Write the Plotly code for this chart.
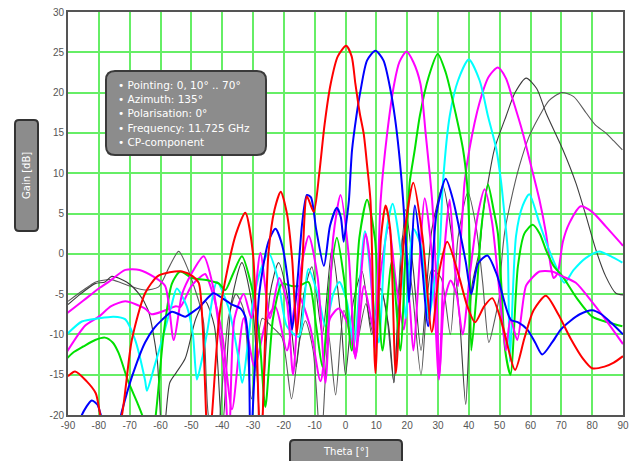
import plotly.graph_objects as go

# ---------------- data ----------------
x_ticks = [-90, -80, -70, -60, -50, -40, -30, -20, -10, 0, 10, 20, 30, 40, 50, 60, 70, 80, 90]
y_ticks = [-20, -15, -10, -5, 0, 5, 10, 15, 20, 25, 30]

red_theta = [-90, -87.7, -84, -81, -79.3, -76, -72.5, -69.3, -65, -61, -57, -53, -49.5, -47.6, -46.3, -44.5, -43.3, -41, -39, -35.5,
             -32.5, -30, -27.5, -25, -23, -21, -19, -17.3, -15.8, -14.1, -12.5, -10.3, -8.5, -6.8, -4.8, -2.5, 0.2, 2, 3.2, 4.6,
             5.9, 7, 8.1, 9.7, 11.5, 13, 14.5, 16.3, 19, 22, 25, 28, 30.5, 33, 36.8, 39.5, 42, 45, 47.6, 51,
             55, 58, 61, 65, 69, 73, 77, 80, 84, 87, 90]
red_gain = [-15.2, -14.6, -15.8, -17.3, -20.5, -25, -20, -10.7, -4.9, -2.8, -2.3, -2.2, -2.8, -3.6, -9, -25, -20, -8, -3.3, 2.5,
            5.1, 0, -25, 0, 5.5, 7.7, 5, -0.7, -10, -2, 7.1, 5.2, 10, 16, 21.1, 24.5, 25.8, 24.5, 21.1, 17.5,
            14.9, 11, 6.6, -14.8, 2, 6, 3, -14.8, 2, 8.8, 2, -9.7, -2, 1.5, -2.8, -6.5, -8.5, -6.5, -5.5, -9,
            -14.4, -10.5, -7, -5.2, -7.5, -10.5, -13, -14.2, -14, -13.5, -12.7]

blue_theta = [-90, -87, -85.5, -82.3, -80.5, -79.5, -76, -72.5, -69.3, -65, -62, -59.5, -56.3, -54, -52, -49.5, -47.6, -45, -42.8, -40,
              -36.8, -34, -32.5, -31.4, -30.8, -28, -25, -22.7, -20.5, -18.5, -17.3, -15.5, -14, -12.5, -11.2, -9.5, -7, -5, -2.8, -1.5,
              -0.6, 0.3, 1.1, 2.1, 3.5, 4.9, 7, 9.7, 12.3, 14.6, 16, 17.3, 18.7, 19.8, 20.6, 22.5, 24.5, 26.8, 29.5, 32.5,
              35, 36.8, 39, 40.8, 43, 46, 49, 52, 53.6, 56, 59, 61.5, 63.8, 67, 69.8, 73, 76, 80, 83, 86, 90]
blue_gain = [-26, -23, -20, -18.2, -18.7, -19.8, -25, -19.5, -15.3, -11, -9.2, -8.2, -7.2, -7.5, -7.8, -7.2, -6.7, -5.6, -4.9, -5.5,
             -6.3, -6.8, -7.8, -11.7, -24, -5, 1.5, 3.1, 1, -4, -9.4, -3, 4, 7.3, 7, 3, -1.5, 3.5, 5.7, 4.5,
             1.5, 4, 6.6, 12.8, 17, 20.3, 24, 25.2, 24, 20.3, 17, 12.8, 6.6, 0, -6, 6, 0, -9, 5, 9.3,
             6.5, 3.3, -1, -5, -1.2, -0.2, -2.5, -6.6, -8.2, -8.5, -9.4, -11, -12.5, -11, -9.4, -8.3, -7.5, -7, -7.5, -8.5, -10]

magenta20_theta = [-90.4, -85, -80, -76.5, -71.4, -66.8, -62, -58.5, -55.7, -53, -50, -46, -43, -41, -39.2, -37.8, -36, -33, -30.5, -27.6,
                   -24.5, -21.5, -19, -17, -14.5, -11.9, -9, -6.5, -4, -1.6, 1, 3.2, 5, 6.5, 8, 9.5, 11.4, 13.5, 15.8, 17.5,
                   19.8, 22, 24.3, 26, 28.1, 29.3, 30.5, 32, 34.1, 36, 38, 40.5, 43, 45.1, 47.5, 50, 52, 53.5, 55.7, 58.5,
                   60.5, 62.9, 67, 70.4, 74.7, 80, 85, 90]
magenta20_gain = [-7.4, -5.8, -4.3, -3.4, -2, -2, -2.9, -4, -10.7, -5, -2.5, -0.3, -4, -9.4, -15, -24, -8, -5, -8, 0.1,
                  -8, -3, -6, -15, -2, 2.2, -3, -16, 2, 7.3, 0, -13, -3, 2.5, -1, -12, 6.6, 14.9, 21.1, 23.8,
                  25.1, 23.8, 21.1, 14.9, 6.6, -2, -15, -6, -3.3, -5, -10, -2, 5, 8, 4, -5, -12, -8, -10.7, -4,
                  -3, -2.2, -2.2, -2.8, -3.6, -6, -8.5, -11.2]

green_theta = [-90.4, -88.5, -85, -81.2, -78, -75.5, -73.6, -70.5, -67.5, -65.5, -63.5, -61.7, -59, -56.3, -53.6, -49.8, -44.4, -41, -39, -36.5,
               -33.6, -30.5, -28, -26, -23.5, -20.6, -17.5, -15, -12, -9.5, -7.5, -5, -2.8, -0.5, 2, 4.5, 7, 9.5, 12, 15,
               17.8, 19.5, 20.2, 20.8, 22.5, 24.1, 27, 29.9, 32.5, 35.9, 38.1, 39.4, 40, 40.3, 40.8, 42.5, 44, 46.2, 48, 49.4,
               50.5, 51.8, 53.5, 55.9, 58, 60.7, 63, 65, 67.5, 70.4, 75, 80, 85, 89.8]
green_gain = [-13, -12.3, -11.5, -10.7, -10.4, -11, -12.3, -15.8, -18.5, -20.5, -24, -20.5, -10, -3.7, -2.2, -3, -3.3, -3.7, -4.5, -2.5,
              -0.3, -4, -10, -19, -8, -3.7, -4, -4, -3.5, -9, -14, -3, 2, -3, -12, 2, 6.7, 2, -12, -1,
              -12, 0.5, 4.7, 8.8, 13, 17.1, 22, 24.8, 22.5, 17.1, 13, 8.8, 4.7, 0.5, -12, -5, 3, 8.6, 5.5, 2.6,
              -3.6, -12, -15, -1.6, 2.5, 3.6, 2.5, 0.5, -1.5, -2.8, -5.5, -7.8, -8.5, -9]

cyan_theta = [-90.4, -85.5, -80, -75.2, -71.5, -68.2, -65, -64.4, -62, -59.5, -56.5, -54.7, -51.5, -49.5, -48.2, -46.5, -45, -41.7, -38, -34.9,
              -33.5, -30, -27.5, -24.9, -22, -19, -15.2, -12, -9, -6.5, -4, -2, 0.5, 2.7, 6.3, 9, 10.8, 13, 15.3, 18,
              19.5, 22, 24.5, 27, 29, 30.5, 31.6, 33.8, 36.5, 40, 43.5, 46.2, 48.9, 50.5, 51.6, 52.6, 53.3, 55.3, 57.5, 59.6,
              62.9, 65.5, 68.3, 71, 74, 78, 82.3, 86, 89.8]
cyan_gain = [-10, -8.4, -8, -7.8, -8.1, -10.7, -15.7, -17, -14, -10.7, -6.5, -4.3, -6.5, -10, -15.6, -13, -10, -3.5, -6.6, -12.5,
             -16, -6, -2, 0.1, -3, -9, -10.3, -1.9, -5, -9, -5, -3.5, -6, -11.3, 2.8, -6, -11, 2, 6.2, 0,
             -8, 3.1, 1, -8, -3, 0.5, 8.8, 17.1, 21.5, 24.1, 21.5, 17.1, 13, 8.8, 4.7, 0.5, -13.4, 2.2, 6, 7.4,
             3.8, 1, -1.6, -3.6, -2, -0.5, 0.3, -0.3, -1.1]

magenta50_theta = [-90.4, -84.4, -80, -76, -71.4, -65, -62.9, -59, -55, -53.6, -50, -46.5, -45.5, -43, -40, -36.8, -33, -29.5, -25.5, -22.7,
                   -19, -15.5, -11.5, -8.1, -5, -2.2, 0.5, 3.2, 6, 9.5, 11.5, 14, 16.5, 18.9, 20.5, 22, 25.7, 28, 30.3, 32,
                   33.8, 35.5, 36.5, 37.2, 37.9, 38.6, 40.2, 43.5, 46.5, 49.4, 52, 54.2, 57.5, 60.2, 62.9, 65, 66.6, 67.5, 68.8, 70.5,
                   72.6, 76.3, 80, 84.4, 90]
magenta50_gain = [-12.2, -8.9, -7.8, -6.5, -5.9, -6.8, -7.5, -7.1, -6.5, -6.6, -4, -2.7, -2.5, -5, -10, -19.3, -8, -14, -8, -6.6,
                  -12, -5, -9, -15.8, -8, -6.8, -8.5, -12.7, -4, -10, -2, 3.3, -4, -9.4, -5, -12, 6.9, 0, -15.6, 0,
                  6.7, -2, -4, 0.5, 4.7, 8.8, 13, 18.8, 22, 23.1, 21.8, 19.2, 15, 10.9, 6.7, 2.6, -1.6, -3, -2.4, 1.5,
                  3.8, 5.9, 5.2, 3.4, 1]

gray60_theta = [-90, -86, -81.2, -78, -75.8, -71, -67.1, -64, -61.1, -59.3, -57, -55, -52, -48.5, -45.5, -42.5, -40, -37, -33.6, -30,
                -27.5, -24.5, -21.7, -18.5, -16, -13.5, -10.9, -7.5, -4.4, -1.5, 0, 2.5, 5.4, 8.5, 11.4, 14, 15.7, 17.5, 19.5, 22,
                24.5, 28, 31.6, 34.5, 37, 39, 41, 43.5, 44.5, 46.2, 48.3, 52.1, 55, 58.6, 62, 65, 70.4, 74.7, 78, 81.2,
                84.4, 87.7, 90]
gray60_gain = [-6.3, -5, -3.7, -3.5, -2.8, -3.5, -4.9, -7, -13, -24, -16, -14.8, -13, -8, -5.9, -9, -22, -6, -1.1, -7,
               -22, -5, -1.1, -6, -14, -5, -1.6, -10, 0.6, -8, -15, -6, -2.2, -10, -4.3, -9, -16, -4, 5.5, -2,
               -12, 3, 8.4, 2, -8, -18.7, -4, 0.5, 4.7, 8.8, 13, 17.1, 20, 21.8, 20.5, 17.5, 13, 8.8, 4.7, 0.5,
               -2.8, -4.9, -5.1]

gray70_theta = [-90, -85, -81, -76, -70, -65, -60.6, -57, -54.1, -51, -49.8, -47.5, -46, -44.5, -42, -38, -35.5, -33, -30.5, -27,
                -24, -20.6, -17.5, -15, -13, -10.5, -8, -5.5, -3.2, -0.5, 3, 6.6, 9, 11.4, 13.5, 15.7, 18.5, 21.5, 24.5, 28,
                31, 34, 36.5, 39.7, 42.5, 44.5, 46.5, 48.5, 50, 50.5, 51.6, 53.7, 56.4, 59.6, 62.9, 66, 70.1, 74, 78, 81,
                84.4, 87, 89.8]
gray70_gain = [-5.9, -4.5, -3.5, -3.2, -4, -4.5, -4.1, -1.5, 0.3, -2, -3.3, -6, -8.6, -20, -24, -8, -5, -7, -18, -8,
               -9, -10.4, -18, -11, -8.3, -12, -24, -10, -17.5, -7, -12, -6.2, -10, -4.3, -8, -16, 2.2, -4, -15, -2,
               -3, -10, 2, 7.6, 3, -3.6, -11, -8, -5, -1.6, 2.6, 6.7, 10.9, 14.6, 17.1, 19, 20, 19.5, 17.5, 16,
               15, 14, 12.9]

info_lines = ["• Pointing: 0, 10° .. 70°", "• Azimuth: 135°", "• Polarisation: 0°",
              "• Frequency: 11.725 GHz", "• CP-component"]

series = [
    (gray70_theta, gray70_gain, "#5a5a5a", 1.1),
    (gray60_theta, gray60_gain, "#3c3c3c", 1.1),
    (magenta50_theta, magenta50_gain, "#ff00ff", 2),
    (cyan_theta, cyan_gain, "#00ffff", 2),
    (green_theta, green_gain, "#00e000", 2),
    (magenta20_theta, magenta20_gain, "#ff00ff", 2),
    (blue_theta, blue_gain, "#0000ff", 2),
    (red_theta, red_gain, "#ff0000", 2),
]

# ---------------- layout geometry (pixels) ----------------
W, H = 635, 461
L, R, T, B = 68, 623, 12, 415


def px2x(px):
    return (px - L) / (R - L)


def py2y(py):
    return (B - py) / (B - T)


def rrect(x0, y0, x1, y1, r):
    pts = [
        ("M", x0 + r, y0), ("L", x1 - r, y0), ("Q", x1, y0, x1, y0 + r),
        ("L", x1, y1 - r), ("Q", x1, y1, x1 - r, y1), ("L", x0 + r, y1),
        ("Q", x0, y1, x0, y1 - r), ("L", x0, y0 + r), ("Q", x0, y0, x0 + r, y0),
    ]
    out = []
    for p in pts:
        cmd = p[0]
        coords = p[1:]
        s = []
        for i in range(0, len(coords), 2):
            s.append(f"{px2x(coords[i]):.5f},{py2y(coords[i + 1]):.5f}")
        out.append(cmd + " " + " ".join(s))
    return " ".join(out) + " Z"


fig = go.Figure()
for th, g, col, w in series:
    assert len(th) == len(g)
    fig.add_trace(go.Scatter(x=th, y=g, mode="lines",
                             line=dict(color=col, width=w, shape="spline", smoothing=0.7),
                             hoverinfo="skip", showlegend=False))

shapes = []
shapes.append(dict(type="path", xref="paper", yref="paper", path=rrect(106, 71, 266, 155, 9),
                   fillcolor="#8c8c8c", line=dict(color="#3a3a3a", width=2), layer="above"))
shapes.append(dict(type="path", xref="paper", yref="paper", path=rrect(15, 120, 38, 231, 4),
                   fillcolor="#8c8c8c", line=dict(color="#333333", width=2), layer="above"))
shapes.append(dict(type="path", xref="paper", yref="paper", path=rrect(290, 440, 402, 466, 4),
                   fillcolor="#8c8c8c", line=dict(color="#333333", width=2), layer="above"))

annotations = []
for i, t in enumerate(info_lines):
    annotations.append(dict(xref="paper", yref="paper", x=px2x(116), y=py2y(85 + i * 14.2),
                            text=t, showarrow=False, xanchor="left", yanchor="middle",
                            font=dict(family="DejaVu Sans", size=10.5, color="white")))
annotations.append(dict(xref="paper", yref="paper", x=px2x(26.5), y=py2y(175.5), text="Gain [dB]",
                        textangle=-90, showarrow=False, xanchor="center", yanchor="middle",
                        font=dict(family="DejaVu Sans", size=10, color="white")))
annotations.append(dict(xref="paper", yref="paper", x=px2x(346), y=py2y(451), text="Theta [°]",
                        showarrow=False, xanchor="center", yanchor="middle",
                        font=dict(family="DejaVu Sans", size=10, color="white")))

fig.update_layout(
    width=W, height=H, autosize=False,
    margin=dict(l=L, r=W - R, t=T, b=H - B, pad=0),
    paper_bgcolor="white", plot_bgcolor="white",
    shapes=shapes, annotations=annotations,
    xaxis=dict(range=[-90, 90], tickvals=x_ticks, ticktext=[str(v) for v in x_ticks],
               showgrid=True, gridcolor="#66ee66", gridwidth=1.5, zeroline=False,
               showline=True, linecolor="#555555", linewidth=2, mirror=True, automargin=False,
               ticks="", tickfont=dict(family="Liberation Sans", size=10, color="#555555")),
    yaxis=dict(range=[-20, 30], tickvals=y_ticks, ticktext=[str(v) for v in y_ticks],
               showgrid=True, gridcolor="#66ee66", gridwidth=1.5, zeroline=False,
               showline=True, linecolor="#555555", linewidth=2, mirror=True, automargin=False,
               ticks="", tickfont=dict(family="Liberation Sans", size=10, color="#555555")),
)

fig.write_html("out.html", config={"displayModeBar": False},
               post_script="document.body.style.margin='0px';document.body.style.padding='0px';")
